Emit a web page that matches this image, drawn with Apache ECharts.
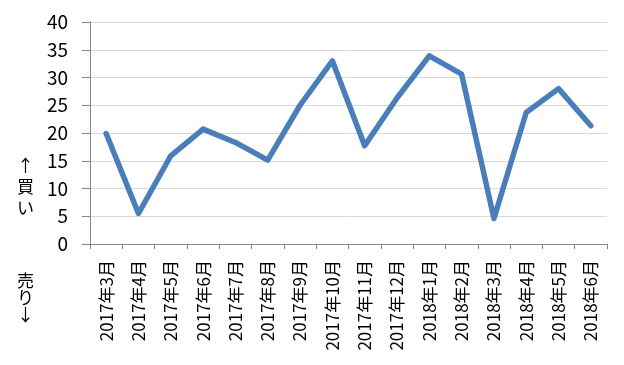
<!DOCTYPE html>
<html><head><meta charset="utf-8">
<script src="https://cdn.jsdelivr.net/npm/echarts@6/dist/echarts.min.js"></script>
<style>html,body{margin:0;padding:0;background:#fff}#c{width:624px;height:365px}</style>
</head><body><div id="c"></div>
<script>
const categories = ["2017年3月","2017年4月","2017年5月","2017年6月","2017年7月","2017年8月","2017年9月","2017年10月","2017年11月","2017年12月","2018年1月","2018年2月","2018年3月","2018年4月","2018年5月","2018年6月"];
const values = [19.9, 5.5, 15.9, 20.7, 18.3, 15.1, 25.0, 33.0, 17.7, 26.3, 33.9, 30.6, 4.6, 23.7, 28.0, 21.3];
const yTicks = [0, 5, 10, 15, 20, 25, 30, 35, 40];
const buyLabel = "↑\n買\nい";
const sellLabel = "売\nり\n↓";

const font = '"Noto Sans CJK JP", sans-serif';
const chart = echarts.init(document.getElementById('c'), null, {renderer: 'canvas'});
chart.setOption({
  animation: false,
  grid: {left: 90, right: 17, top: 22, bottom: 121, containLabel: false},
  xAxis: {
    type: 'category', data: categories, boundaryGap: true,
    axisLine: {lineStyle: {color: '#868686', width: 1}},
    axisTick: {show: true, alignWithLabel: false, length: 5, lineStyle: {color: '#868686'}},
    axisLabel: {rotate: 90, interval: 0, margin: 16, color: '#000', fontSize: 17, fontFamily: font}
  },
  yAxis: {
    type: 'value', min: yTicks[0], max: yTicks[yTicks.length-1], interval: 5,
    axisLine: {show: true, lineStyle: {color: '#868686', width: 1}},
    axisTick: {show: true, inside: false, length: 8, lineStyle: {color: '#868686'}},
    axisLabel: {margin: 22, color: '#000', fontSize: 19, fontFamily: font},
    splitLine: {lineStyle: {color: '#d9d9d9', width: 1}}
  },
  graphic: [
    {type: 'text', left: 17, top: 155, style: {text: buyLabel, font: '17px ' + font, fill: '#000', lineHeight: 21, align: 'center'}},
    {type: 'text', left: 17, top: 272, style: {text: sellLabel, font: '17px ' + font, fill: '#000', lineHeight: 17, align: 'center'}}
  ],
  series: [{
    type: 'line', data: values, symbol: 'none',
    lineStyle: {color: '#4a7ebb', width: 5.5, cap: 'round', join: 'round'}
  }]
});
</script></body></html>
